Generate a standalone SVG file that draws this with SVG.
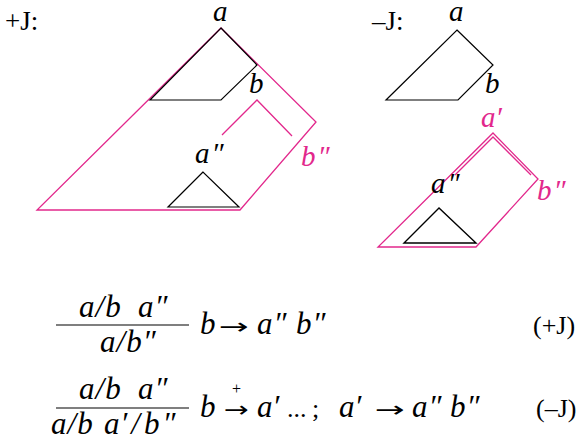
<svg xmlns="http://www.w3.org/2000/svg" width="583" height="445" viewBox="0 0 583 445">
<style>
  .ln { fill: none; stroke: #000; stroke-width: 1.2; stroke-linejoin: miter; }
  .mg { fill: none; stroke: #e2288c; stroke-width: 1.3; stroke-linejoin: miter; }
  .t { font-family: "Liberation Serif", "Times New Roman", serif; font-size: 26px; fill: #000; }
  .h { font-family: "Liberation Serif", "Times New Roman", serif; font-size: 27px; fill: #000; }
  .i { font-family: "Liberation Serif", "Times New Roman", serif; font-style: italic; font-size: 31px; fill: #000; }
  .ar { font-family: "DejaVu Sans", sans-serif; font-size: 22px; fill: #000; }
  .l { font-family: "Liberation Serif", "Times New Roman", serif; font-style: italic; font-size: 29px; fill: #000; }
  .lm { font-family: "Liberation Serif", "Times New Roman", serif; font-style: italic; font-size: 29px; fill: #e2288c; }
  .fr { stroke: #000; stroke-width: 1.2; }
</style>
<rect width="583" height="445" fill="#fff"/>

<g id="plusJ">
  <text class="h" x="5" y="30">+J:</text>
  <polygon class="mg" points="221,28 316,122 240,210 37,210"/>
  <polygon class="ln" points="221,28 257,65 221,100 150,100"/>
  <polyline class="mg" points="222,135 257,100 292,136"/>
  <polygon class="ln" points="203,172 168,207 239,207"/>
  <text class="l" x="213" y="21">a</text>
  <text class="l" x="249" y="93">b</text>
  <text class="l" x="195" y="163">a<tspan dx="2">″</tspan></text>
  <text class="lm" x="301" y="166">b<tspan dx="2">″</tspan></text>
</g>

<g id="minusJ">
  <text class="h" x="372" y="30">–J:</text>
  <polygon class="ln" points="457,30 493,65 458,100 386,100"/>
  <polygon class="mg" points="493,133 538,179 476,247 378,247"/>
  <polyline class="mg" points="455,175 493,137 531,175"/>
  <polygon class="ln" points="439,208 404,243 476,243" style="stroke-width:1.4"/>
  <text class="l" x="449" y="21">a</text>
  <text class="l" x="485" y="93">b</text>
  <text class="lm" x="481" y="127">a′</text>
  <text class="l" x="431" y="193">a<tspan dx="2">″</tspan></text>
  <text class="lm" x="537" y="200">b<tspan dx="2">″</tspan></text>
</g>

<g id="eqPlus">
  <text class="i" x="79" y="317">a<tspan dx="1">/</tspan><tspan dx="1">b</tspan></text>
  <text class="i" x="138" y="317">a<tspan dx="1">″</tspan></text>
  <line class="fr" x1="56" y1="325" x2="189" y2="325"/>
  <text class="i" x="100" y="352">a<tspan dx="1">/</tspan><tspan dx="1">b</tspan><tspan dx="1">″</tspan></text>
  <text class="i" x="200" y="334">b</text>
  <text class="ar" x="219" y="334" textLength="30" lengthAdjust="spacingAndGlyphs">→</text>
  <text class="i" x="257" y="334">a<tspan dx="1">″</tspan></text>
  <text class="i" x="296" y="334">b<tspan dx="1">″</tspan></text>
  <text class="t" x="533" y="334">(+J)</text>
</g>

<g id="eqMinus">
  <text class="i" x="79" y="399">a<tspan dx="1">/</tspan><tspan dx="1">b</tspan></text>
  <text class="i" x="138" y="399">a<tspan dx="1">″</tspan></text>
  <line class="fr" x1="56" y1="408" x2="189" y2="408"/>
  <text class="i" x="51" y="434">a<tspan dx="1">/</tspan><tspan dx="1">b</tspan></text>
  <text class="i" x="104" y="434">a<tspan dx="1">′</tspan><tspan dx="4">/</tspan><tspan dx="4">b</tspan><tspan dx="3">″</tspan></text>
  <text class="i" x="200" y="417">b</text>
  <text class="ar" x="224" y="417" textLength="25" lengthAdjust="spacingAndGlyphs">→</text>
  <text class="t" x="232" y="394" style="font-size:16px">+</text>
  <text class="i" x="257" y="417">a′</text>
  <text class="t" x="287" y="417">...</text>
  <text class="t" x="312" y="417">;</text>
  <text class="i" x="339" y="417">a′</text>
  <text class="ar" x="375" y="417" textLength="30" lengthAdjust="spacingAndGlyphs">→</text>
  <text class="i" x="412" y="417">a<tspan dx="1">″</tspan></text>
  <text class="i" x="450" y="417">b<tspan dx="1">″</tspan></text>
  <text class="t" x="536" y="417">(–J)</text>
</g>
</svg>
